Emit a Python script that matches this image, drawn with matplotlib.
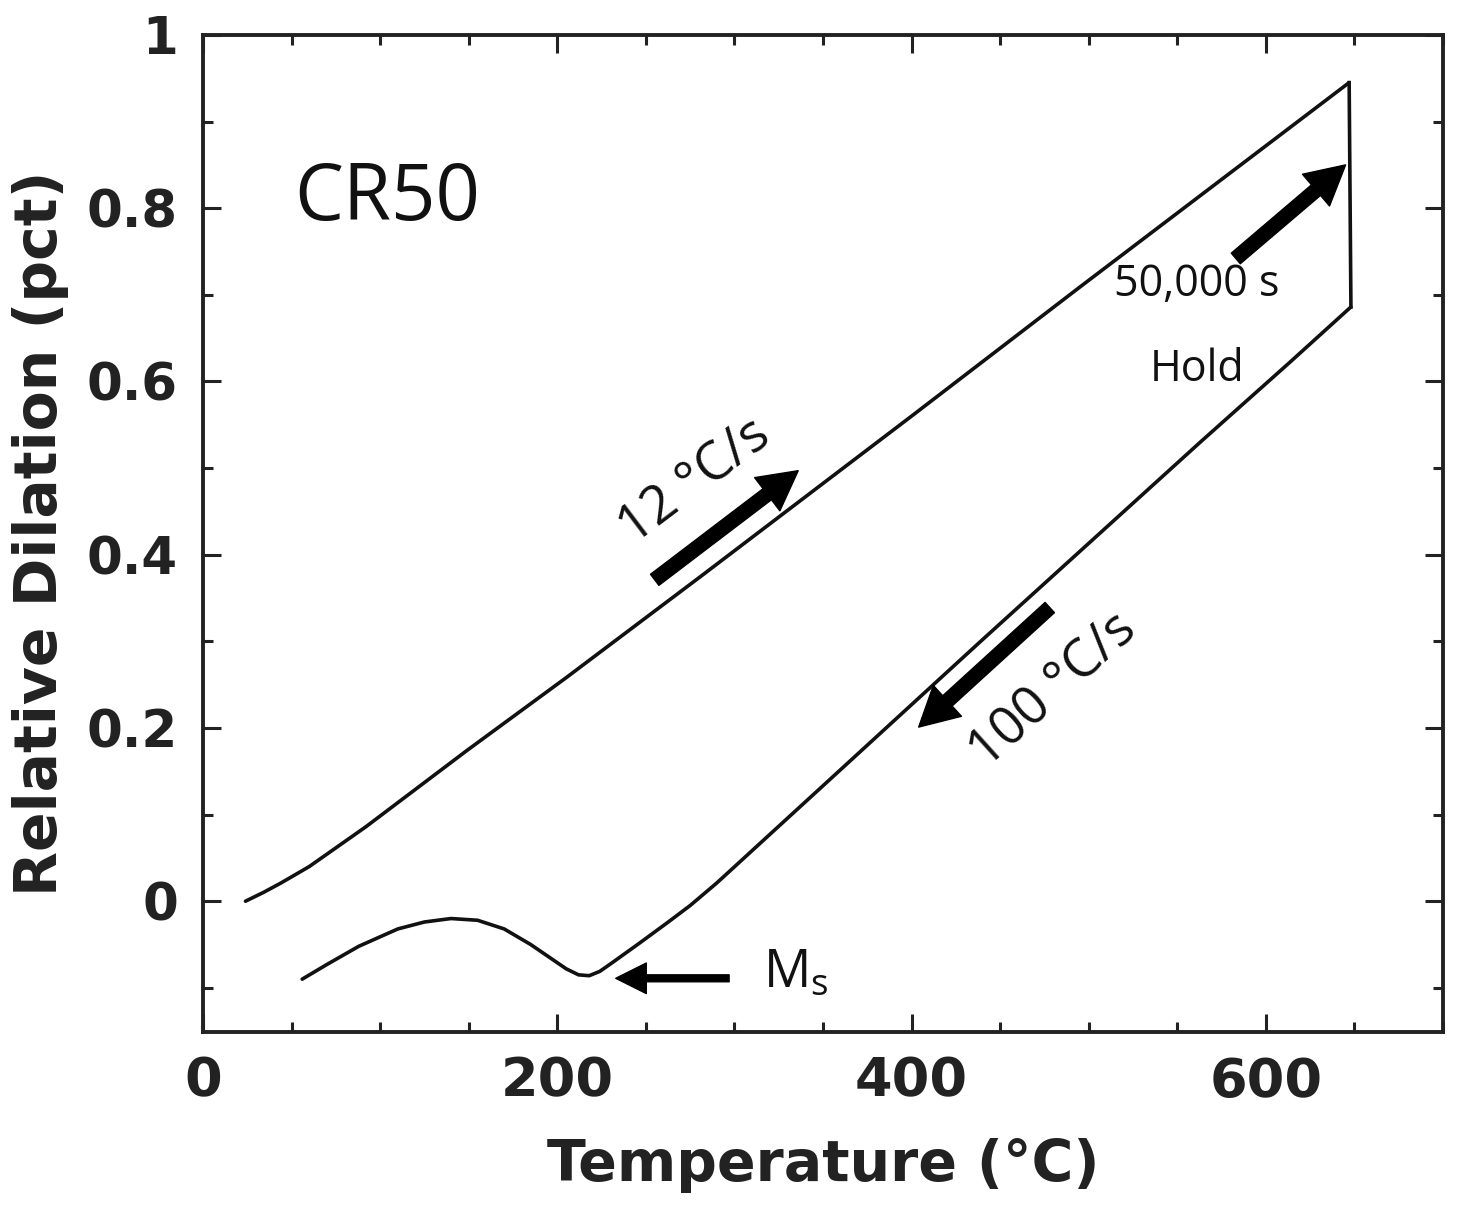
import matplotlib
matplotlib.use("Agg")
import matplotlib.pyplot as plt
from matplotlib.ticker import MultipleLocator

# heating at 12 C/s
heat_T = [24, 34, 44, 60, 92, 149, 205, 281, 400, 495, 647]
heat_y = [0.0, 0.010, 0.021, 0.040, 0.086, 0.174, 0.258, 0.375, 0.560, 0.709, 0.945]

# isothermal hold
hold_T = [647, 648]
hold_y = [0.945, 0.686]

# cooling at 100 C/s (through Ms)
cool_T = [648, 614, 563, 439, 360, 290, 275, 262, 246, 231, 224, 218, 212,
          205, 195, 185, 170, 155, 140, 125, 110, 88, 70, 56]
cool_y = [0.686, 0.623, 0.530, 0.300, 0.152, 0.021, -0.005, -0.025, -0.049,
          -0.071, -0.081, -0.086, -0.085, -0.078, -0.064, -0.050, -0.032,
          -0.022, -0.020, -0.024, -0.032, -0.052, -0.073, -0.090]

# arrows: (tail T, tail y, head T, head y)
arr_heat = (255, 0.371, 336, 0.497)
arr_hold = (583, 0.742, 645, 0.850)
arr_cool = (478, 0.339, 404, 0.201)
arr_ms = (297, -0.089, 233, -0.089)

fig = plt.figure(figsize=(14.74, 12.18), dpi=100)
ax = fig.add_axes([0.1377, 0.1527, 0.8413, 0.8186])

lc = "#111111"
ax.plot(heat_T, heat_y, color=lc, lw=2.6, solid_capstyle="round",
        solid_joinstyle="round")
ax.plot(hold_T, hold_y, color=lc, lw=2.6)
ax.plot(cool_T, cool_y, color=lc, lw=2.6, solid_capstyle="round",
        solid_joinstyle="round")

ax.set_xlim(0, 700)
ax.set_ylim(-0.151, 1.0)
ax.xaxis.set_major_locator(MultipleLocator(200))
ax.xaxis.set_minor_locator(MultipleLocator(50))
ax.yaxis.set_major_locator(MultipleLocator(0.2))
ax.yaxis.set_minor_locator(MultipleLocator(0.1))
ax.set_yticks([0, 0.2, 0.4, 0.6, 0.8, 1.0])
ax.set_yticklabels(["0", "0.2", "0.4", "0.6", "0.8", "1"])

for s in ax.spines.values():
    s.set_linewidth(2.8)
    s.set_color("#222222")
ax.tick_params(which="both", direction="in", top=True, right=True,
               width=2.2, color="#222222")
ax.tick_params(which="major", length=13)
ax.tick_params(which="minor", length=7)
ax.tick_params(axis="x", which="major", pad=17)
ax.tick_params(axis="y", which="major", pad=18)
for lab in ax.get_xticklabels():
    lab.set_fontfamily("DejaVu Sans")
    lab.set_fontweight("bold")
    lab.set_fontsize(39)
    lab.set_color("#222222")
for lab in ax.get_yticklabels():
    lab.set_fontfamily("DejaVu Sans")
    lab.set_fontweight("bold")
    lab.set_fontsize(37)
    lab.set_color("#222222")

ax.set_xlabel("Temperature (°C)", fontsize=41, fontweight="bold",
              color="#222222", labelpad=22)
ax.set_ylabel("Relative Dilation (pct)", fontsize=42, fontweight="bold",
              color="#222222")
ax.yaxis.set_label_coords(-0.108, 0.5)

def big_arrow(a, w=10, hw=30, hl=28):
    ax.annotate("", xy=(a[2], a[3]), xytext=(a[0], a[1]),
                arrowprops=dict(facecolor="black", edgecolor="black",
                                width=w, headwidth=hw, headlength=hl))

big_arrow(arr_heat)
big_arrow(arr_hold)
big_arrow(arr_cool)
big_arrow(arr_ms, w=5, hw=22, hl=22)

tf = "Open Sans"
ax.text(104, 0.81, "CR50", fontsize=56, family=tf, ha="center", va="center",
        color="#111111")
ax.text(278, 0.484, "12 °C/s", fontsize=38, family=tf, ha="center",
        va="center", rotation=37, color="#111111")
ax.text(480, 0.243, "100 °C/s", fontsize=38, family=tf, ha="center",
        va="center", rotation=42, color="#111111")
ax.text(561, 0.712, "50,000 s", fontsize=31, family=tf, ha="center",
        va="center", color="#111111")
ax.text(561, 0.613, "Hold", fontsize=31, family=tf, ha="center",
        va="center", color="#111111")
ax.text(316, -0.083, "M$_\\mathregular{s}$", fontsize=38, family=tf,
        ha="left", va="center", color="#111111")

fig.savefig("out.png", dpi=100)
